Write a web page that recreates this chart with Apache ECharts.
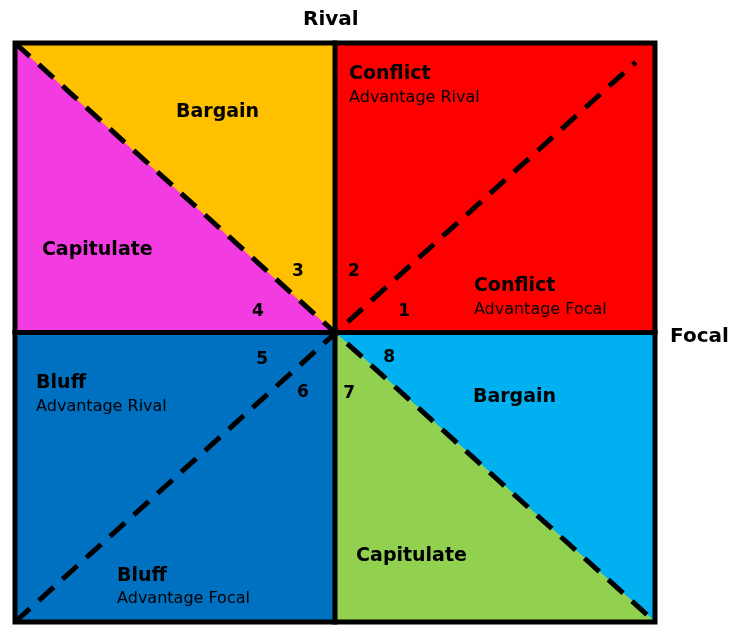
<!DOCTYPE html>
<html lang="en">
<head>
    <meta charset="UTF-8">
    <title>Rival / Focal</title>
    <script src="https://cdn.jsdelivr.net/npm/echarts@6/dist/echarts.min.js"></script>
    <style>
        body { margin: 0; background: #fff; }
    </style>
</head>
<body>
<div id="main" style="width:733px;height:626px"></div>
<script>
    // regions of the diagram, in axis units (-1..1 on both axes)
    let regionNames = ['Capitulate TL', 'Bargain TL', 'Conflict', 'Bluff', 'Bargain BR', 'Capitulate BR'];
    let regionColors = ['#F23BE1', '#FFC000', '#FF0000', '#0070C0', '#00B0F0', '#92D050'];
    let regionShapes = [
        [[-1, 1], [0, 0], [-1, 0]],
        [[-1, 1], [0, 1], [0, 0]],
        [[0, 1], [1, 1], [1, 0], [0, 0]],
        [[-1, 0], [0, 0], [0, -1], [-1, -1]],
        [[0, 0], [1, 0], [1, -1]],
        [[0, 0], [1, -1], [0, -1]]
    ];

    // dashed diagonals
    let diagonalA = [[-1, 1], [1, -1]];
    let diagonalB = [[-1, -1], [0.94, 0.934]];

    // solid frame and cross
    let frame = [[-1, 1], [1, 1], [1, -1], [-1, -1], [-1, 1]];
    let crossV = [[0, 1], [0, -1]];
    let crossH = [[-1, 0], [1, 0]];

    // labels: text, position, kind
    let labelTexts = ['Rival', 'Focal', 'Bargain', 'Capitulate', 'Conflict', 'Advantage Rival',
        'Conflict', 'Advantage Focal', 'Bluff', 'Advantage Rival', 'Bluff', 'Advantage Focal',
        'Bargain', 'Capitulate', '1', '2', '3', '4', '5', '6', '7', '8'];
    let labelPositions = [[-0.013, 1.08], [1.047, -0.016], [-0.497, 0.762], [-0.916, 0.285],
        [0.044, 0.893], [0.044, 0.81], [0.434, 0.161], [0.434, 0.078],
        [-0.934, -0.174], [-0.934, -0.257], [-0.681, -0.841], [-0.681, -0.921],
        [0.431, -0.223], [0.066, -0.772],
        [0.216, 0.071], [0.059, 0.209], [-0.116, 0.212], [-0.241, 0.071],
        [-0.228, -0.092], [-0.1, -0.209], [0.044, -0.212], [0.169, -0.085]];
    let labelKinds = ['axis', 'axisLeft', 'main', 'main', 'main', 'sub', 'main', 'sub', 'main', 'sub', 'main', 'sub',
        'main', 'main', 'num', 'num', 'num', 'num', 'num', 'num', 'num', 'num'];

    let kindStyle = {
        axis: {fontSize: 20, fontWeight: 'bold', align: 'center'},
        axisLeft: {fontSize: 20, fontWeight: 'bold', align: 'left'},
        main: {fontSize: 19, fontWeight: 'bold', align: 'left'},
        sub: {fontSize: 16, fontWeight: 'normal', align: 'left'},
        num: {fontSize: 17, fontWeight: 'bold', align: 'center'}
    };

    let mychart = echarts.init(document.getElementById('main'));

    function solidLine(data) {
        return {
            type: 'line', data: data, symbol: 'none', clip: false, silent: true,
            lineStyle: {color: '#000', width: 5, join: 'miter', cap: 'square'}, z: 4
        };
    }

    function dashedLine(data) {
        return {
            type: 'line', data: data, symbol: 'none', clip: false, silent: true,
            lineStyle: {color: '#000', width: 5, type: [20, 12], cap: 'butt'}, z: 5
        };
    }

    let option = {
        animation: false,
        grid: {left: 15, top: 43, width: 640, height: 579},
        xAxis: {type: 'value', min: -1, max: 1, show: false},
        yAxis: {type: 'value', min: -1, max: 1, show: false},
        series: [
            {
                type: 'custom',
                silent: true,
                z: 2,
                data: regionNames.map(function (n, i) { return [i]; }),
                renderItem: function (params, api) {
                    let i = api.value(0);
                    return {
                        type: 'polygon',
                        shape: {points: regionShapes[i].map(function (p) { return api.coord(p); })},
                        style: {fill: regionColors[i], stroke: regionColors[i], lineWidth: 1}
                    };
                }
            },
            dashedLine(diagonalA),
            dashedLine(diagonalB),
            solidLine(frame),
            solidLine(crossV),
            solidLine(crossH),
            {
                type: 'scatter',
                symbolSize: 0,
                clip: false,
                silent: true,
                z: 6,
                itemStyle: {opacity: 1},
                data: labelTexts.map(function (t, i) {
                    let s = kindStyle[labelKinds[i]];
                    return {
                        value: labelPositions[i],
                        label: {
                            show: true,
                            position: 'inside',
                            formatter: t,
                            color: '#000',
                            opacity: 1,
                            fontFamily: 'DejaVu Sans',
                            fontSize: s.fontSize,
                            fontWeight: s.fontWeight,
                            align: s.align,
                            verticalAlign: 'middle'
                        }
                    };
                })
            }
        ]
    };
    mychart.setOption(option);
</script>
</body>
</html>
